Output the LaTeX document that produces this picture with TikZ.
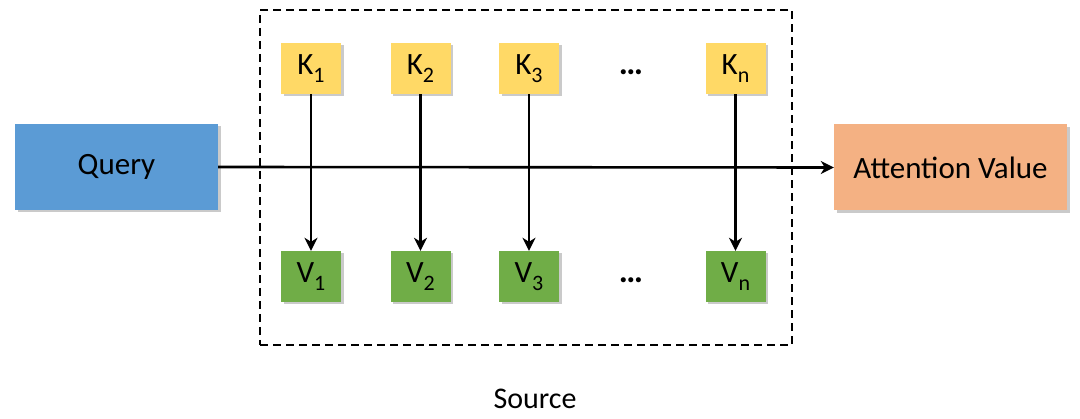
\documentclass[tikz,border=0pt]{standalone}
\usepackage{fontspec}
\setmainfont{Carlito}
\usetikzlibrary{shadows,arrows.meta}
\definecolor{qblue}{HTML}{5B9BD5}
\definecolor{korange}{HTML}{F4B183}
\definecolor{kyellow}{HTML}{FFD966}
\definecolor{vgreen}{HTML}{70AD47}
\newcommand{\subx}[1]{\raisebox{-0.28em}{\fontsize{22}{22}\selectfont #1}}
\tikzset{
  box/.style={draw=none, inner sep=0pt, font=\fontsize{31}{36}\selectfont,
    drop shadow={shadow xshift=2.5pt, shadow yshift=-2.5pt, opacity=0.35, fill=black!60}},
  bigbox/.style={box, minimum height=86pt},
  small/.style={box, minimum width=60pt, minimum height=51pt},
  kbox/.style={small, fill=kyellow},
  vbox/.style={small, fill=vgreen},
  arr/.style={line width=2.6pt, -{Stealth[length=13pt,width=13pt,inset=4pt]}},
  dots/.style={inner sep=0pt, font=\fontsize{34}{38}\selectfont}
}
\begin{document}
\begin{tikzpicture}[x=1pt,y=-1pt]
\useasboundingbox (0,0) rectangle (1080,419);
\node[draw=black, line width=2.2pt, dash pattern=on 8pt off 5pt, minimum width=532pt, minimum height=335pt, inner sep=0pt] (src) at (526,177.5) {};
\node[bigbox, fill=qblue, minimum width=203pt] (q) at (116.5,167) {Query};
\node[bigbox, fill=korange, minimum width=233pt] (av) at (950.5,167.5) {Attention Value};
\node[kbox] (k1) at (311,68.5) {K\subx{1}};
\node[kbox] (k2) at (420.5,68.5) {K\subx{2}};
\node[kbox] (k3) at (529,68.5) {K\subx{3}};
\node[kbox] (kn) at (735.5,68.5) {K\subx{n}};
\node[vbox] (v1) at (311,276.5) {V\subx{1}};
\node[vbox] (v2) at (420.5,276.5) {V\subx{2}};
\node[vbox] (v3) at (529,276.5) {V\subx{3}};
\node[vbox] (vn) at (735.5,276.5) {V\subx{n}};
\node[dots] (kd) at (631,72) {\textbf{\ldots}};
\node[dots] (vd) at (631,280) {\textbf{\ldots}};
\foreach \i in {1,2,3,n} \draw[arr] (k\i.south) -- (v\i.north);
\draw[arr] (q.east) -- (av.west);
\node[inner sep=0pt, font=\fontsize{30}{34}\selectfont] (srclabel) at (535,399) {Source};
\end{tikzpicture}
\end{document}
